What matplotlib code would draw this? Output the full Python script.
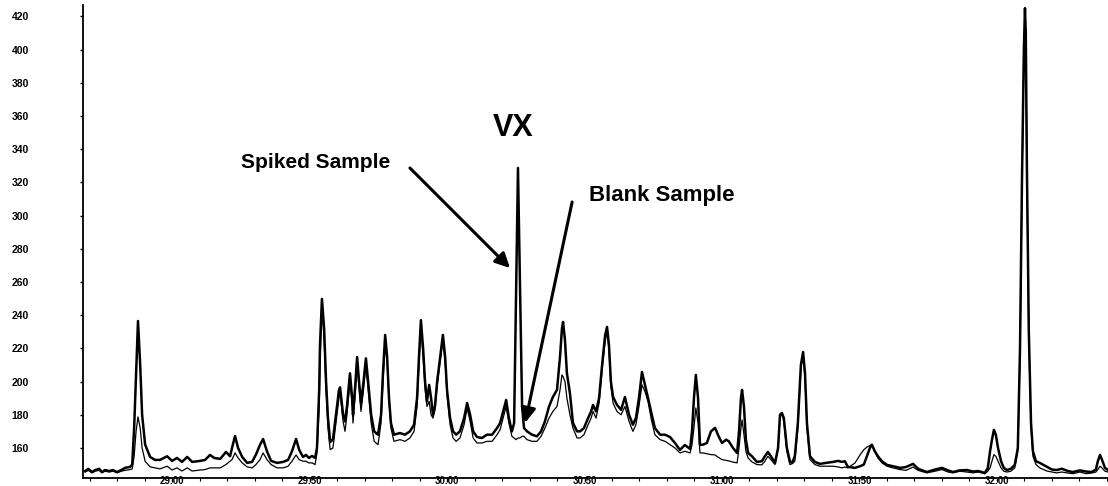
import matplotlib
matplotlib.use("Agg")
import matplotlib.pyplot as plt
from matplotlib.ticker import FixedLocator, MultipleLocator

plt.rcParams["font.family"] = ["Liberation Sans", "DejaVu Sans"]

# Retention time (min) shared by both traces
rt = [
    28.684, 28.695, 28.709, 28.720, 28.735, 28.745, 28.756, 28.771, 28.785, 28.800,
    28.815, 28.829, 28.847, 28.855, 28.862, 28.869, 28.876, 28.884, 28.891, 28.902,
    28.920, 28.938, 28.956, 28.982, 29.000, 29.018, 29.036, 29.055, 29.073, 29.102,
    29.120, 29.138, 29.153, 29.175, 29.196, 29.211, 29.218, 29.229, 29.240, 29.255,
    29.273, 29.291, 29.305, 29.320, 29.331, 29.345, 29.360, 29.382, 29.404, 29.422,
    29.436, 29.451, 29.462, 29.476, 29.487, 29.498, 29.509, 29.520, 29.527, 29.535,
    29.538, 29.545, 29.553, 29.560, 29.567, 29.575, 29.585, 29.596, 29.607, 29.611,
    29.622, 29.629, 29.636, 29.647, 29.655, 29.658, 29.665, 29.673, 29.680, 29.687,
    29.695, 29.705, 29.713, 29.724, 29.735, 29.749, 29.760, 29.767, 29.775, 29.782,
    29.789, 29.796, 29.807, 29.829, 29.847, 29.865, 29.880, 29.891, 29.898, 29.905,
    29.913, 29.920, 29.927, 29.935, 29.942, 29.949, 29.956, 29.964, 29.975, 29.985,
    29.993, 30.000, 30.011, 30.022, 30.033, 30.047, 30.062, 30.073, 30.084, 30.095,
    30.109, 30.127, 30.145, 30.164, 30.182, 30.193, 30.204, 30.215, 30.225, 30.236,
    30.244, 30.251, 30.258, 30.265, 30.273, 30.280, 30.291, 30.309, 30.327, 30.342,
    30.356, 30.371, 30.385, 30.400, 30.411, 30.418, 30.422, 30.429, 30.436, 30.447,
    30.458, 30.473, 30.484, 30.498, 30.513, 30.524, 30.531, 30.542, 30.553, 30.564,
    30.575, 30.582, 30.589, 30.596, 30.604, 30.618, 30.633, 30.647, 30.662, 30.676,
    30.687, 30.698, 30.709, 30.720, 30.731, 30.742, 30.756, 30.775, 30.793, 30.811,
    30.829, 30.847, 30.865, 30.884, 30.891, 30.898, 30.905, 30.913, 30.920, 30.931,
    30.945, 30.960, 30.975, 30.985, 31.000, 31.015, 31.025, 31.040, 31.055, 31.062,
    31.069, 31.073, 31.080, 31.087, 31.095, 31.109, 31.127, 31.145, 31.156, 31.167,
    31.178, 31.193, 31.204, 31.211, 31.218, 31.225, 31.236, 31.247, 31.255, 31.265,
    31.276, 31.287, 31.295, 31.302, 31.309, 31.320, 31.338, 31.356, 31.378, 31.404,
    31.422, 31.436, 31.447, 31.458, 31.484, 31.502, 31.516, 31.527, 31.538, 31.545,
    31.556, 31.567, 31.582, 31.600, 31.622, 31.647, 31.669, 31.695, 31.713, 31.745,
    31.775, 31.800, 31.822, 31.840, 31.865, 31.891, 31.913, 31.931, 31.945, 31.956,
    31.967, 31.975, 31.982, 31.989, 31.996, 32.004, 32.015, 32.025, 32.036, 32.051,
    32.065, 32.076, 32.084, 32.091, 32.098, 32.102, 32.105, 32.109, 32.116, 32.124,
    32.131, 32.142, 32.156, 32.182, 32.200, 32.218, 32.236, 32.258, 32.276, 32.302,
    32.324, 32.345, 32.360, 32.367, 32.375, 32.382, 32.393, 32.404,
]

# Abundance of the spiked sample
spiked = [
    146.1, 147.4, 145.5, 146.7, 147.4, 145.5, 146.7, 146.1, 146.7, 145.5,
    146.7, 148.0, 148.6, 150.0, 172.0, 205.0, 236.5, 210.0, 180.0, 162.0,
    154.6, 152.8, 152.8, 155.0, 152.2, 154.0, 151.6, 154.6, 151.6, 152.2,
    152.8, 155.8, 154.0, 153.4, 157.6, 155.0, 160.0, 167.2, 160.0, 154.6,
    151.0, 151.6, 156.0, 162.0, 165.4, 158.0, 152.2, 151.0, 151.6, 152.8,
    158.0, 165.4, 159.0, 154.6, 155.8, 154.0, 155.2, 154.0, 160.0, 195.0,
    222.0, 249.8, 232.0, 200.0, 178.0, 163.6, 165.0, 180.0, 194.9, 196.5,
    180.0, 176.0, 185.0, 205.0, 190.0, 180.0, 195.0, 214.8, 200.0, 187.0,
    198.0, 214.0, 200.0, 180.0, 170.0, 168.0, 180.0, 205.0, 228.1, 215.0,
    190.0, 175.0, 168.0, 169.0, 168.0, 170.0, 174.0, 190.0, 215.0, 237.0,
    220.0, 200.0, 188.0, 198.0, 190.0, 180.0, 185.0, 200.0, 215.0, 228.1,
    215.0, 195.0, 178.0, 170.0, 168.0, 170.0, 178.0, 187.1, 180.0, 170.0,
    166.6, 166.0, 168.0, 168.0, 172.0, 175.0, 182.0, 188.9, 178.0, 170.0,
    175.0, 250.0, 328.7, 260.0, 185.0, 172.0, 170.0, 168.0, 167.0, 170.0,
    176.0, 185.0, 190.7, 195.0, 215.0, 232.0, 235.9, 225.0, 205.0, 193.0,
    175.1, 170.0, 170.0, 172.0, 178.0, 182.0, 185.9, 182.0, 190.0, 210.0,
    228.0, 232.9, 222.0, 200.0, 190.7, 186.0, 183.0, 190.7, 180.0, 174.0,
    178.0, 190.0, 205.8, 198.0, 190.1, 182.0, 172.0, 168.0, 168.0, 166.6,
    163.0, 158.8, 161.8, 159.4, 170.0, 190.0, 204.0, 190.0, 161.8, 162.0,
    163.0, 170.0, 172.1, 168.0, 163.0, 165.0, 164.0, 160.0, 157.0, 170.0,
    190.0, 195.0, 185.0, 165.0, 157.0, 155.0, 151.6, 152.0, 155.0, 157.6,
    155.0, 151.0, 160.0, 180.0, 181.1, 178.0, 160.0, 152.0, 151.0, 155.0,
    175.0, 210.0, 217.8, 205.0, 175.0, 155.0, 151.6, 150.4, 151.0, 151.6,
    152.2, 151.6, 152.0, 148.6, 148.0, 149.0, 150.0, 155.0, 160.0, 162.0,
    158.0, 155.0, 152.0, 149.8, 149.0, 148.0, 148.5, 150.4, 147.5, 145.5,
    147.0, 148.0, 146.5, 145.5, 146.5, 146.7, 145.8, 146.1, 145.5, 144.9,
    148.0, 158.0, 165.0, 170.9, 168.0, 160.0, 152.0, 148.0, 146.7, 147.5,
    149.8, 160.0, 220.0, 320.0, 400.0, 425.0, 410.0, 330.0, 230.0, 175.0,
    158.0, 152.0, 151.0, 148.6, 147.0, 146.7, 147.5, 146.1, 145.5, 146.5,
    145.8, 145.5, 147.0, 152.0, 155.8, 153.0, 148.0, 146.7,
]

# Abundance of the blank sample
blank = [
    145.5, 146.5, 145.0, 146.0, 146.5, 145.0, 146.0, 145.5, 146.0, 145.0,
    146.0, 146.5, 147.0, 147.4, 155.0, 170.0, 178.7, 172.0, 160.0, 152.0,
    148.6, 148.0, 147.4, 149.0, 146.7, 148.0, 146.1, 148.0, 146.1, 146.7,
    147.0, 148.0, 148.0, 148.0, 150.0, 152.0, 153.0, 157.0, 154.0, 151.0,
    148.6, 148.0, 150.0, 153.0, 157.0, 153.0, 150.0, 148.0, 148.0, 149.0,
    152.0, 155.8, 153.0, 152.0, 152.0, 151.0, 151.0, 150.0, 157.0, 185.0,
    210.0, 245.5, 225.0, 195.0, 172.0, 159.0, 160.0, 175.0, 190.0, 193.0,
    176.0, 170.0, 180.0, 200.0, 186.0, 175.0, 190.0, 210.0, 196.0, 182.0,
    193.0, 210.0, 195.0, 175.0, 164.0, 162.0, 175.0, 200.0, 222.0, 213.0,
    188.0, 172.0, 164.0, 165.0, 164.0, 166.0, 170.0, 185.0, 210.0, 232.9,
    215.0, 196.0, 185.0, 188.0, 180.0, 178.0, 183.0, 197.0, 212.0, 225.0,
    212.0, 192.0, 174.0, 166.0, 164.0, 166.0, 174.0, 184.0, 176.0, 166.0,
    163.0, 163.0, 164.0, 164.0, 168.0, 171.0, 178.0, 185.0, 175.0, 167.0,
    166.0, 165.0, 166.0, 166.0, 167.0, 167.0, 165.0, 164.0, 164.0, 167.0,
    172.0, 178.0, 182.0, 185.0, 195.0, 204.0, 203.0, 200.0, 190.0, 180.0,
    172.0, 166.0, 166.0, 168.0, 174.0, 178.0, 182.0, 178.0, 187.0, 207.0,
    224.0, 230.0, 219.0, 197.0, 187.0, 182.0, 180.0, 185.0, 176.0, 170.0,
    174.0, 185.0, 198.0, 194.0, 188.0, 178.0, 168.0, 165.0, 164.0, 162.0,
    160.0, 157.0, 158.0, 157.0, 162.0, 172.0, 184.1, 175.0, 157.0, 157.0,
    156.5, 156.0, 155.8, 154.5, 153.0, 152.5, 152.2, 151.5, 151.0, 160.0,
    172.0, 176.9, 168.0, 158.0, 154.0, 151.6, 150.0, 149.8, 152.0, 155.0,
    153.0, 150.0, 160.0, 178.0, 181.0, 176.0, 158.0, 150.0, 150.5, 152.0,
    172.0, 208.0, 216.0, 202.0, 172.0, 153.0, 150.0, 149.0, 149.0, 149.0,
    148.6, 148.0, 148.5, 148.0, 151.0, 155.8, 159.0, 160.5, 161.5, 162.0,
    158.0, 154.0, 151.0, 149.0, 148.0, 147.0, 146.5, 148.5, 146.5, 145.0,
    146.0, 147.0, 145.5, 145.0, 146.0, 145.5, 145.0, 145.5, 145.0, 144.5,
    146.0, 148.0, 152.0, 156.0, 155.0, 152.0, 148.0, 146.0, 145.5, 146.0,
    148.0, 158.0, 215.0, 315.0, 395.0, 420.0, 405.0, 325.0, 225.0, 172.0,
    155.0, 150.0, 148.0, 146.1, 145.5, 145.0, 145.5, 144.9, 144.5, 145.5,
    144.5, 144.9, 145.5, 147.0, 149.0, 148.0, 146.0, 145.5,
]

x_ticks = [29.0, 29.5, 30.0, 30.5, 31.0, 31.5, 32.0]
x_tick_labels = ["29.00", "29.50", "30.00", "30.50", "31.00", "31.50", "32.00"]
y_ticks = [160, 180, 200, 220, 240, 260, 280, 300, 320, 340, 360, 380, 400, 420]

fig = plt.figure(figsize=(11.08, 4.86), dpi=100)
ax = fig.add_axes([83 / 1108, 8 / 486, 1 - 83 / 1108, 473 / 486])

ax.plot(rt, blank, color="black", lw=0.9, zorder=3)
ax.plot(rt, spiked, color="black", lw=1.8, zorder=4)

ax.set_xlim(28.676, 32.404)
ax.set_ylim(141.9, 426.9)

for side in ("top", "right"):
    ax.spines[side].set_visible(False)
for side in ("left", "bottom"):
    ax.spines[side].set_linewidth(1.3)

ax.xaxis.set_major_locator(FixedLocator(x_ticks))
ax.set_xticklabels(x_tick_labels)
ax.xaxis.set_minor_locator(MultipleLocator(0.1))
ax.yaxis.set_major_locator(FixedLocator(y_ticks))

ax.tick_params(axis="x", which="major", direction="out", length=3, width=1,
               pad=-4.6, labelsize=7)
ax.tick_params(axis="x", which="minor", direction="out", length=2, width=0.8)
ax.tick_params(axis="y", which="major", direction="out", length=2.5, width=1,
               pad=36.5, labelsize=7.5)
for lab in ax.get_xticklabels() + ax.get_yticklabels():
    lab.set_fontweight("bold")

# Annotations
ax.text(30.240, 352.8, "VX", fontsize=22, fontweight="bold",
        ha="center", va="center")
ax.text(29.793, 331.7, "Spiked Sample", fontsize=15, fontweight="bold",
        ha="right", va="center")
ax.text(30.516, 312.4, "Blank Sample", fontsize=16, fontweight="bold",
        ha="left", va="center")

arrow_style = dict(arrowstyle="-|>", lw=2.2, color="black",
                   mutation_scale=22, shrinkA=0, shrinkB=0)
ax.annotate("", xy=(30.229, 268.4), xytext=(29.865, 328.7),
            arrowprops=arrow_style)
ax.annotate("", xy=(30.284, 175.1), xytext=(30.455, 308.2),
            arrowprops=arrow_style)

fig.savefig("out.png", dpi=100)
